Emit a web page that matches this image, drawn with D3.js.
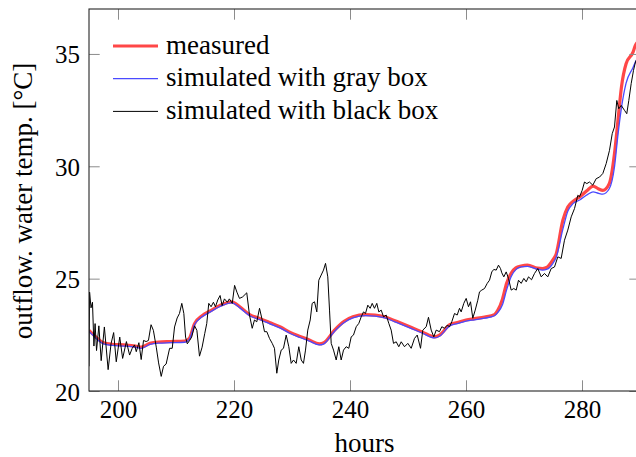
<!DOCTYPE html>
<html>
<head>
<meta charset="utf-8">
<script src="https://cdn.jsdelivr.net/npm/d3@7/dist/d3.min.js"></script>
</head>
<body style="margin:0;padding:0;background:#fff;">
<svg id="chart" width="636" height="457" style="display:block"></svg>
<script>
// ---- data ----
const xTicks = [200, 220, 240, 260, 280];
const yTicks = [20, 25, 30, 35];
const seriesNames = ["measured", "simulated with gray box", "simulated with black box"];

const smoothHours = [195,196,197.5,199,201,203,204,205.5,207,209,211.5,212.3,213.2,214.5,215.8,217.5,219.6,221,222.7,224.5,226.1,228,229.6,231.5,233,234.7,235.5,237.3,239,240.5,242.7,244.3,246,248,250.3,252.5,254.6,255.5,257.2,258.5,260,261.5,263.2,264.9,265.5,266.3,267,267.8,268.6,269.5,270.6,272.3,273.2,274,274.9,275.55,276.7,277.55,278.5,279.6,281,281.9,282.8,283.6,284.7,285.6,286.2,286.8,287.6,288.8,289.2,290];
const measuredTemp = [22.7,22.45,22.15,22.08,22.05,22.0,21.95,22.12,22.18,22.2,22.22,22.35,23.0,23.35,23.55,23.8,23.97,23.75,23.4,23.22,23.05,22.85,22.62,22.42,22.27,22.1,22.15,22.7,23.1,23.3,23.4,23.38,23.3,23.1,22.86,22.62,22.41,22.5,22.95,23.05,23.16,23.22,23.29,23.4,23.6,24.1,24.8,25.25,25.48,25.56,25.6,25.47,25.45,25.51,25.8,26.1,27.6,28.19,28.45,28.64,28.95,29.12,29.0,28.93,29.23,30.56,32.04,33.52,34.56,35.08,35.38,35.6];
const grayBoxTemp = [22.65,22.4,22.1,22.03,22.0,21.95,21.9,22.07,22.13,22.15,22.17,22.3,22.95,23.3,23.5,23.75,23.92,23.7,23.35,23.17,23.0,22.8,22.57,22.37,22.22,22.05,22.1,22.65,23.05,23.25,23.35,23.33,23.25,23.05,22.81,22.57,22.36,22.45,22.9,23.0,23.11,23.17,23.24,23.35,23.5,23.85,24.5,25.1,25.4,25.52,25.55,25.42,25.38,25.42,25.65,25.95,27.2,28.0,28.35,28.5,28.75,28.86,28.8,28.76,29.0,29.97,31.4,32.6,33.7,34.4,34.64,34.95];

const blackBoxHours = [195.0,195.1,195.35,195.6,195.85,196.05,196.3,196.7,197.1,197.65,198.3,198.8,199.25,199.7,200.3,200.8,201.45,202.0,202.45,202.85,203.15,203.6,204.0,204.4,204.85,205.25,205.7,206.1,206.6,207.0,207.45,207.85,208.3,208.9,209.35,209.75,210.2,210.6,211.0,211.35,211.65,211.95,212.35,212.7,213.2,213.6,214.05,214.5,214.95,215.3,215.65,216.05,216.45,216.8,217.2,217.6,217.95,218.35,218.85,219.2,219.7,220.1,220.5,220.95,221.5,222.2,222.67,223.14,223.53,223.93,224.4,224.86,225.26,225.66,226.12,226.59,226.98,227.38,227.72,228.14,228.53,229.0,229.45,229.86,230.26,230.72,231.17,231.59,231.98,232.33,232.72,233.14,233.48,233.88,234.28,234.62,235.03,235.43,235.78,236.17,236.47,236.76,237.16,237.62,238.07,238.48,238.88,239.34,239.79,240.21,240.6,241.07,241.52,241.93,242.33,242.67,243.07,243.48,243.83,244.22,244.62,244.97,245.38,245.78,246.24,246.69,247.1,247.5,247.97,248.41,248.83,249.4,249.97,250.55,251.12,251.59,252.16,252.55,253.14,253.53,254.0,254.45,254.86,255.43,255.83,256.29,256.76,257.16,257.55,258.02,258.48,258.88,259.17,259.62,260.03,260.43,260.78,261.17,261.59,262.03,262.33,262.72,263.19,263.66,264.05,264.45,264.79,265.21,265.6,265.95,266.17,266.52,266.93,267.33,267.79,268.24,268.66,269.05,269.52,269.97,270.38,270.78,271.3,271.81,272.38,272.97,273.53,274.1,274.69,275.26,275.83,276.41,276.98,277.55,278.14,278.71,279.28,279.57,280.03,280.43,280.83,281.29,281.86,282.45,283.02,283.59,284.17,284.74,285.21,285.6,286.0,286.34,286.76,287.33,287.72,288.07,288.48,288.88,289.22,290.0];
const blackBoxTemp = [21.1,24.4,23.7,23.95,22.0,23.0,21.8,22.9,21.35,22.85,20.95,22.1,22.6,21.3,22.4,21.45,22.2,21.6,21.9,22.05,21.75,22.15,21.4,22.25,22.2,22.25,22.95,22.7,21.95,21.25,20.65,21.1,21.2,21.9,21.9,22.85,23.25,23.45,23.9,23.45,22.4,22.1,22.25,22.4,22.9,22.7,21.55,21.95,22.55,23.0,23.9,23.75,23.95,23.75,24.05,24.25,23.8,24.1,23.95,24.1,23.9,24.7,24.4,24.12,24.19,24.37,23.38,22.79,23.16,23.08,23.68,23.16,22.64,22.64,22.34,22.12,21.9,20.79,21.38,21.82,21.9,22.49,21.97,21.23,21.38,21.23,21.97,21.38,21.23,21.82,22.71,23.16,23.9,23.97,23.52,24.93,25.16,25.38,25.68,25.08,23.6,22.12,21.82,21.38,21.97,21.38,21.82,21.97,21.9,22.41,22.49,22.86,23.01,23.3,23.52,23.45,23.82,23.68,23.9,23.68,23.9,23.52,23.6,23.3,23.38,23.01,22.71,22.12,22.19,21.97,22.19,21.97,22.12,21.9,22.34,22.49,21.9,22.71,22.86,23.28,22.71,22.41,22.71,22.64,22.86,22.79,22.93,22.86,23.08,23.45,23.38,23.68,23.52,23.9,24.12,23.75,23.97,23.24,23.6,24.04,24.41,24.49,24.56,24.79,24.93,25.3,25.41,25.38,25.6,25.45,25.26,25.08,25.3,25.01,24.49,24.56,24.49,24.93,24.79,25.01,24.86,25.08,24.95,25.23,25.45,25.08,25.23,25.08,25.45,25.52,25.97,25.9,26.71,27.16,27.75,28.12,28.71,28.64,28.93,29.3,29.23,29.3,29.16,29.45,29.52,29.68,30.12,30.71,31.45,31.75,32.93,32.56,32.71,32.49,32.34,32.93,33.68,34.27,34.64,35.1];

// ---- layout ----
const FONT = "'Liberation Serif'";
const mLeft = 89, mRight = 640, mTop = 9, mBottom = 391;
const svg = d3.select("#chart");
const x = d3.scaleLinear().domain([195, 290]).range([mLeft, mRight]);
const y = d3.scaleLinear().domain([20, 37]).range([mBottom, mTop]);
const tickLen = 10.7;
const fontTick = 25, fontLabel = 27;

svg.append("defs").append("clipPath").attr("id", "clip")
  .append("rect").attr("x", mLeft).attr("y", mTop).attr("width", mRight - mLeft).attr("height", mBottom - mTop);

const plot = svg.append("g").attr("clip-path", "url(#clip)");

const zip = (hs, ts) => hs.map((h, i) => [h, ts[i]]);
const smoothLine = d3.line().x(d => x(d[0])).y(d => y(d[1])).curve(d3.curveMonotoneX);
const rawLine = d3.line().x(d => x(d[0])).y(d => y(d[1]));

plot.append("path").datum(zip(smoothHours, measuredTemp))
  .attr("d", smoothLine).attr("fill", "none").attr("stroke", "#ff4747").attr("stroke-width", 3.2)
  .attr("stroke-linejoin", "round");
plot.append("path").datum(zip(smoothHours, grayBoxTemp))
  .attr("d", smoothLine).attr("fill", "none").attr("stroke", "#4a4aff").attr("stroke-width", 1.3);
plot.append("path").datum(zip(blackBoxHours, blackBoxTemp))
  .attr("d", rawLine).attr("fill", "none").attr("stroke", "#000").attr("stroke-width", 1)
  .attr("stroke-linejoin", "round");

// ---- axes (ticks pointing inward on all four sides) ----
const tickColor = "#8c8c8c";
function styleAxis(g) {
  g.select(".domain").remove();
  g.selectAll(".tick line").attr("stroke", tickColor).attr("stroke-width", 1);
}
const gB = svg.append("g").attr("transform", `translate(0,${mBottom})`)
  .call(d3.axisBottom(x).tickValues(xTicks).tickSizeInner(-tickLen).tickSizeOuter(0).tickPadding(0));
styleAxis(gB);
gB.selectAll(".tick text").attr("y", 27).attr("dy", null)
  .style("font-family", FONT).style("font-size", fontTick + "px").attr("fill", "#000");

const gT = svg.append("g").attr("transform", `translate(0,${mTop})`)
  .call(d3.axisTop(x).tickValues(xTicks).tickSizeInner(-tickLen).tickSizeOuter(0).tickFormat(""));
styleAxis(gT);

const gL = svg.append("g").attr("transform", `translate(${mLeft},0)`)
  .call(d3.axisLeft(y).tickValues(yTicks).tickSizeInner(-tickLen).tickSizeOuter(0).tickPadding(0));
styleAxis(gL);
gL.selectAll(".tick text").attr("x", -9).attr("dy", "0.36em")
  .style("font-family", FONT).style("font-size", fontTick + "px").attr("fill", "#000");

const gR = svg.append("g").attr("transform", `translate(${mRight},0)`)
  .call(d3.axisRight(y).tickValues(yTicks).tickSizeInner(-tickLen).tickSizeOuter(0).tickFormat(""));
styleAxis(gR);

svg.append("rect").attr("x", mLeft).attr("y", mTop).attr("width", mRight - mLeft).attr("height", mBottom - mTop)
  .attr("fill", "none").attr("stroke", "#262626").attr("stroke-width", 1.1);

// ---- axis labels ----
svg.append("text").attr("x", (mLeft + mRight) / 2).attr("y", 452).attr("text-anchor", "middle")
  .style("font-family", FONT).style("font-size", fontLabel + "px").text("hours");
svg.append("text").attr("transform", `translate(32,201) rotate(-90)`)
  .attr("text-anchor", "middle").style("font-family", FONT).style("font-size", fontLabel + "px")
  .text("outflow. water temp. [°C]");

// ---- legend ----
const legendColors = ["#ff4747", "#4a4aff", "#000"];
const legendWidths = [3.2, 1.3, 1];
const lg = svg.append("g");
seriesNames.forEach((name, i) => {
  const ly = 46 + i * 32.7;
  lg.append("line").attr("x1", 113).attr("x2", 158).attr("y1", ly).attr("y2", ly)
    .attr("stroke", legendColors[i]).attr("stroke-width", legendWidths[i]);
  lg.append("text").attr("x", 166).attr("y", ly + 7.5)
    .style("font-family", FONT).style("font-size", fontLabel + "px").text(name);
});
</script>
</body>
</html>
